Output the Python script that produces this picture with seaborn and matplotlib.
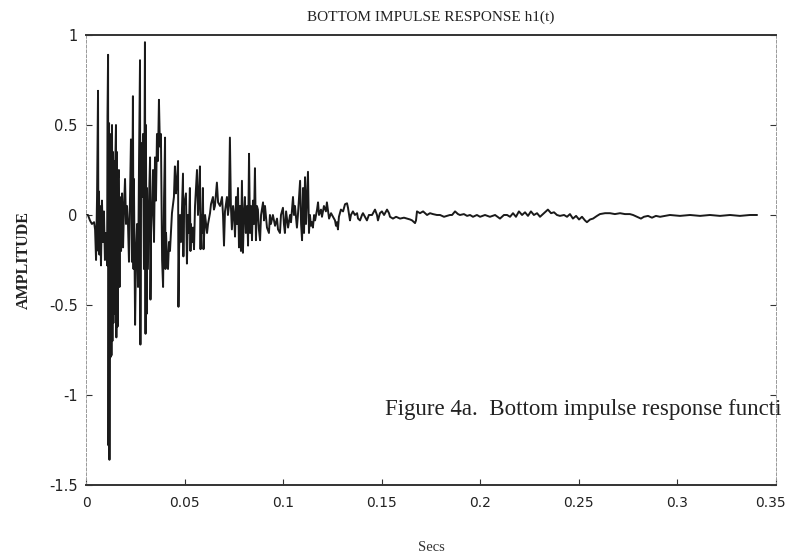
import matplotlib
matplotlib.use("Agg")
import matplotlib.pyplot as plt
import matplotlib.transforms as mtransforms
import seaborn as sns
import pandas as pd

# Time (s) and amplitude
time_s = [
    0.0000, 0.0010, 0.0020, 0.0030, 0.0041, 0.0046, 0.0051, 0.0056, 0.0061, 0.0063,
    0.0066, 0.0068, 0.0071, 0.0076, 0.0081, 0.0086, 0.0091, 0.0096, 0.0101, 0.0107,
    0.0109, 0.0112, 0.0114, 0.0117, 0.0119, 0.0122, 0.0124, 0.0127, 0.0129, 0.0132,
    0.0134, 0.0137, 0.0139, 0.0142, 0.0144, 0.0147, 0.0152, 0.0154, 0.0157, 0.0160,
    0.0162, 0.0167, 0.0170, 0.0172, 0.0178, 0.0183, 0.0188, 0.0193, 0.0198, 0.0203,
    0.0208, 0.0213, 0.0218, 0.0223, 0.0228, 0.0231, 0.0233, 0.0238, 0.0241, 0.0243,
    0.0249, 0.0254, 0.0259, 0.0264, 0.0269, 0.0274, 0.0276, 0.0279, 0.0284, 0.0289,
    0.0294, 0.0299, 0.0302, 0.0304, 0.0307, 0.0309, 0.0314, 0.0320, 0.0325, 0.0327,
    0.0330, 0.0335, 0.0340, 0.0345, 0.0350, 0.0355, 0.0360, 0.0365, 0.0370, 0.0375,
    0.0380, 0.0386, 0.0391, 0.0396, 0.0401, 0.0403, 0.0406, 0.0411, 0.0416, 0.0421,
    0.0426, 0.0436, 0.0446, 0.0451, 0.0456, 0.0462, 0.0467, 0.0469, 0.0472, 0.0477,
    0.0482, 0.0487, 0.0492, 0.0494, 0.0497, 0.0507, 0.0512, 0.0517, 0.0522, 0.0527,
    0.0530, 0.0532, 0.0538, 0.0543, 0.0548, 0.0553, 0.0563, 0.0568, 0.0573, 0.0578,
    0.0581, 0.0583, 0.0588, 0.0593, 0.0596, 0.0604, 0.0614, 0.0619, 0.0629, 0.0634,
    0.0644, 0.0649, 0.0654, 0.0664, 0.0670, 0.0680, 0.0690, 0.0695, 0.0700, 0.0705,
    0.0715, 0.0720, 0.0725, 0.0730, 0.0735, 0.0740, 0.0746, 0.0751, 0.0756, 0.0761,
    0.0766, 0.0771, 0.0776, 0.0781, 0.0786, 0.0791, 0.0796, 0.0801, 0.0806, 0.0811,
    0.0817, 0.0822, 0.0827, 0.0832, 0.0837, 0.0842, 0.0847, 0.0852, 0.0857, 0.0862,
    0.0867, 0.0872, 0.0877, 0.0883, 0.0888, 0.0898, 0.0903, 0.0908, 0.0918, 0.0928,
    0.0933, 0.0938, 0.0948, 0.0959, 0.0969, 0.0974, 0.0984, 0.0989, 0.0999, 0.1004,
    0.1009, 0.1015, 0.1025, 0.1035, 0.1040, 0.1050, 0.1055, 0.1060, 0.1070, 0.1075,
    0.1086, 0.1091, 0.1096, 0.1101, 0.1106, 0.1111, 0.1116, 0.1121, 0.1126, 0.1131,
    0.1136, 0.1141, 0.1146, 0.1151, 0.1157, 0.1162, 0.1172, 0.1177, 0.1182, 0.1192,
    0.1197, 0.1207, 0.1217, 0.1222, 0.1233, 0.1243, 0.1253, 0.1263, 0.1268, 0.1273,
    0.1278, 0.1283, 0.1293, 0.1304, 0.1314, 0.1324, 0.1329, 0.1339, 0.1344, 0.1354,
    0.1364, 0.1375, 0.1380, 0.1390, 0.1400, 0.1405, 0.1415, 0.1425, 0.1435, 0.1451,
    0.1461, 0.1466, 0.1476, 0.1481, 0.1491, 0.1501, 0.1512, 0.1527, 0.1537, 0.1542,
    0.1557, 0.1573, 0.1593, 0.1613, 0.1628, 0.1644, 0.1654, 0.1669, 0.1674, 0.1679,
    0.1694, 0.1710, 0.1730, 0.1745, 0.1760, 0.1780, 0.1796, 0.1816, 0.1831, 0.1846,
    0.1857, 0.1872, 0.1887, 0.1897, 0.1917, 0.1933, 0.1948, 0.1963, 0.1983, 0.1999,
    0.2024, 0.2049, 0.2075, 0.2100, 0.2120, 0.2136, 0.2151, 0.2166, 0.2181, 0.2196,
    0.2212, 0.2227, 0.2242, 0.2257, 0.2272, 0.2288, 0.2303, 0.2323, 0.2343, 0.2359,
    0.2374, 0.2389, 0.2404, 0.2425, 0.2440, 0.2455, 0.2470, 0.2486, 0.2501, 0.2516,
    0.2531, 0.2541, 0.2557, 0.2572, 0.2592, 0.2607, 0.2633, 0.2658, 0.2683, 0.2709,
    0.2734, 0.2759, 0.2775, 0.2795, 0.2815, 0.2830, 0.2851, 0.2871, 0.2891, 0.2912,
    0.2962, 0.3013, 0.3064, 0.3115, 0.3165, 0.3216, 0.3267, 0.3317, 0.3368, 0.3404,
]

amplitude = [
    0.00, 0.00, -0.03, -0.05, -0.04, -0.08, -0.25, 0.10, 0.69, -0.20,
    0.13, -0.22, 0.05, -0.28, 0.08, -0.15, 0.02, -0.25, -0.10, -0.28,
    0.55, 0.89, -1.28, 0.51, -1.36, 0.45, -0.79, 0.42, -0.78, 0.50,
    -0.70, 0.35, -0.60, 0.30, -0.55, 0.20, 0.50, -0.68, 0.35, -0.62,
    0.20, 0.25, -0.40, 0.10, -0.20, 0.12, -0.18, 0.05, 0.20, -0.05,
    0.05, -0.05, -0.26, 0.10, 0.42, 0.30, -0.26, 0.66, -0.30, 0.20,
    -0.61, -0.20, -0.05, -0.40, 0.30, 0.86, -0.72, 0.40, 0.10, 0.45,
    -0.30, 0.96, -0.66, 0.50, -0.55, 0.15, -0.30, 0.10, 0.32, -0.47,
    -0.10, 0.05, 0.25, -0.15, 0.32, 0.08, 0.45, 0.30, 0.64, 0.38,
    0.45, -0.25, -0.40, 0.10, 0.43, -0.30, -0.10, -0.25, -0.30, -0.15,
    -0.20, 0.01, 0.10, 0.27, 0.12, 0.20, 0.30, -0.51, -0.20, 0.00,
    -0.15, 0.05, 0.23, -0.23, 0.05, 0.12, -0.27, 0.00, -0.10, 0.15,
    -0.20, -0.05, -0.15, -0.07, -0.19, 0.05, 0.25, 0.00, 0.10, 0.27,
    -0.19, 0.00, -0.10, 0.15, -0.19, 0.00, -0.10, -0.05, 0.01, 0.06,
    0.10, 0.03, 0.05, 0.18, 0.07, 0.05, 0.10, 0.00, -0.17, 0.02,
    0.10, 0.00, 0.05, 0.43, 0.05, -0.08, 0.05, 0.00, -0.12, 0.10,
    -0.05, 0.15, -0.18, 0.05, -0.20, 0.19, -0.21, 0.00, 0.10, -0.10,
    0.05, -0.17, 0.34, -0.10, 0.05, -0.14, 0.08, -0.05, 0.26, -0.14,
    0.05, 0.03, -0.08, -0.14, 0.00, 0.07, -0.03, 0.05, -0.07, -0.10,
    0.00, -0.05, 0.00, -0.06, -0.02, -0.08, -0.10, 0.00, 0.04, -0.05,
    -0.10, 0.02, -0.07, 0.00, -0.04, 0.10, 0.00, 0.05, -0.07, 0.00,
    0.19, -0.05, -0.14, 0.15, -0.10, 0.21, -0.05, 0.10, 0.24, -0.10,
    0.00, -0.06, -0.04, -0.07, 0.00, -0.03, 0.03, 0.07, 0.00, 0.03,
    -0.01, 0.05, 0.02, 0.07, -0.02, 0.01, -0.01, -0.03, -0.06, -0.04,
    -0.08, -0.01, 0.03, 0.02, 0.06, 0.065, 0.04, -0.03, 0.00, 0.02,
    0.00, 0.01, -0.02, -0.03, 0.00, 0.01, -0.01, -0.03, 0.00, 0.00,
    0.02, 0.03, 0.00, -0.03, 0.01, 0.02, 0.00, 0.03, 0.01, -0.01,
    -0.02, -0.01, -0.02, -0.015, -0.02, -0.025, -0.03, -0.045, -0.03, 0.02,
    0.01, 0.02, 0.00, 0.01, 0.005, 0.00, 0.00, -0.01, -0.005, 0.00,
    0.00, 0.02, 0.005, 0.00, 0.005, -0.005, 0.00, -0.01, 0.00, -0.01,
    0.00, -0.01, 0.00, -0.02, 0.00, 0.00, -0.01, 0.01, -0.01, 0.02,
    0.00, 0.015, -0.005, 0.02, 0.00, 0.01, -0.01, 0.01, 0.03, 0.01,
    0.015, 0.00, -0.005, 0.00, -0.01, 0.005, -0.02, -0.005, -0.025, -0.01,
    -0.03, -0.04, -0.025, -0.02, -0.005, 0.005, 0.01, 0.01, 0.005, 0.01,
    0.005, 0.005, 0.00, -0.01, -0.02, -0.01, -0.005, -0.015, -0.005, -0.01,
    0.00, -0.005, 0.00, -0.005, 0.00, -0.005, 0.00, -0.005, 0.00, 0.00,
]

x_ticks = [0, 0.05, 0.1, 0.15, 0.2, 0.25, 0.3, 0.35]
x_tick_labels = ["0", "0.05", "0.1", "0.15", "0.2", "0.25", "0.3", "0.35"]
y_ticks = [-1.5, -1, -0.5, 0, 0.5, 1]
y_tick_labels = ["-1.5", "-1", "-0.5", "0", "0.5", "1"]

df = pd.DataFrame({"t": time_s, "h": amplitude})

sns.set_style("white")
plt.rcParams["font.family"] = ["Liberation Serif", "DejaVu Serif"]

fig = plt.figure(figsize=(7.89, 5.59), dpi=100)
ax = fig.add_axes([0.109, 0.1324, 0.8745, 0.805])

sns.lineplot(data=df, x="t", y="h", ax=ax, sort=False, estimator=None,
             color="#1a1a1a", linewidth=1.4)

ax.set_xlim(0, 0.35)
ax.set_ylim(-1.5, 1)
ax.set_xticks(x_ticks)
ax.set_xticklabels(x_tick_labels, family="DejaVu Sans", fontsize=10)
ax.set_yticks(y_ticks)
ax.set_yticklabels(y_tick_labels, family="DejaVu Sans", fontsize=10.5)
ax.tick_params(axis="both", direction="in", length=4, width=0.8, colors="#333333",
               labelcolor="#222222", pad=8)
ax.tick_params(axis="y", right=True, left=True, pad=6)
ax.tick_params(axis="x", top=False, bottom=True)

# nudge the last x label so it stays inside the figure
last = ax.get_xticklabels()[-1]
last.set_transform(last.get_transform() +
                   mtransforms.ScaledTranslation(-6 / 100, 0, fig.dpi_scale_trans))

for side in ["top", "bottom"]:
    ax.spines[side].set_color("#333333")
    ax.spines[side].set_linewidth(1.4)
for side in ["left", "right"]:
    ax.spines[side].set_color("#999999")
    ax.spines[side].set_linewidth(0.7)
    ax.spines[side].set_linestyle((0, (3, 2)))

ax.set_xlabel("Secs", fontsize=10.5, color="#333333", labelpad=22)
ax.set_ylabel("AMPLITUDE", fontsize=11.5, fontweight="bold", color="#222222", labelpad=12)
ax.set_title("BOTTOM IMPULSE RESPONSE h1(t)", fontsize=11, color="#222222", pad=10)

fig.text(0.488, 0.268, "Figure 4a.  Bottom impulse response functi",
         fontsize=16.5, color="#222222", ha="left", va="center")

fig.savefig("out.png", dpi=100, facecolor="white")
